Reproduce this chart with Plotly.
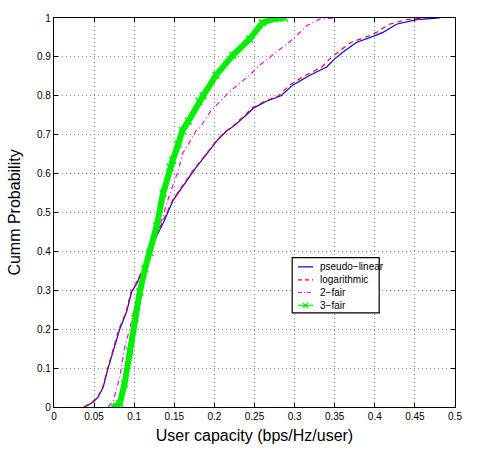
import plotly.graph_objects as go

# pseudo-linear (blue)
pl_x = [0.0384, 0.049, 0.055, 0.0613, 0.0675, 0.0738, 0.082, 0.0905, 0.0968, 0.103, 0.1134,
        0.1259, 0.1362, 0.1487, 0.1655, 0.176, 0.1905, 0.203, 0.2155, 0.224, 0.2405, 0.249,
        0.265, 0.283, 0.298, 0.319, 0.340, 0.350, 0.360, 0.377, 0.402, 0.410, 0.427, 0.452, 0.481]
pl_y = [0.0, 0.013, 0.026, 0.051, 0.10, 0.144, 0.20, 0.245, 0.296, 0.317, 0.364,
        0.431, 0.473, 0.532, 0.583, 0.613, 0.651, 0.684, 0.71, 0.722, 0.752, 0.769,
        0.786, 0.80, 0.828, 0.853, 0.874, 0.895, 0.912, 0.937, 0.956, 0.963, 0.984, 0.996, 1.0]

# logarithmic (red)
lg_x = [0.037, 0.048, 0.055, 0.061, 0.067, 0.073, 0.081, 0.090, 0.096, 0.102, 0.113,
        0.125, 0.135, 0.148, 0.165, 0.175, 0.190, 0.202, 0.215, 0.223, 0.239, 0.247,
        0.263, 0.280, 0.294, 0.314, 0.334, 0.344, 0.354, 0.370, 0.395, 0.402, 0.418, 0.440, 0.465]
lg_y = [0.0, 0.013, 0.028, 0.052, 0.10, 0.144, 0.20, 0.245, 0.296, 0.317, 0.364,
        0.431, 0.473, 0.532, 0.583, 0.613, 0.651, 0.684, 0.71, 0.722, 0.752, 0.769,
        0.786, 0.80, 0.828, 0.853, 0.874, 0.895, 0.912, 0.937, 0.956, 0.963, 0.984, 0.996, 1.0]

# 2-fair (magenta)
f2_x = [0.0675, 0.0738, 0.082, 0.088, 0.0946, 0.101, 0.107, 0.1134, 0.132, 0.1417, 0.1446,
        0.155, 0.160, 0.1655, 0.177, 0.182, 0.195, 0.219, 0.244, 0.256, 0.277, 0.298,
        0.315, 0.331, 0.350]
f2_y = [0.0, 0.015, 0.077, 0.152, 0.203, 0.262, 0.313, 0.355, 0.465, 0.530, 0.549,
        0.608, 0.651, 0.668, 0.71, 0.718, 0.76, 0.811, 0.853, 0.878, 0.912, 0.946,
        0.98, 0.997, 1.0]

# 3-fair (green)
f3_x = [0.0738, 0.082, 0.088, 0.0946, 0.101, 0.107, 0.1134, 0.1196, 0.128, 0.136, 0.1446,
        0.148, 0.155, 0.160, 0.1675, 0.181, 0.186, 0.202, 0.223, 0.244, 0.260, 0.275, 0.2875]
f3_y = [0.0, 0.009, 0.06, 0.144, 0.228, 0.296, 0.355, 0.397, 0.465, 0.549, 0.617,
        0.634, 0.676, 0.71, 0.735, 0.786, 0.80, 0.853, 0.904, 0.946, 0.988, 0.998, 1.0]

series_names = ["pseudo\u2212linear", "logarithmic", "2\u2212fair", "3\u2212fair"]
series_colors = ["#0000ff", "#ff0000", "#ff00ff", "#00ee00"]
series_dash = ["solid", "4px,3px", "4px,2px,1px,2px", "solid"]

x_ticks = [0, 0.05, 0.1, 0.15, 0.2, 0.25, 0.3, 0.35, 0.4, 0.45, 0.5]
x_labels = ["0", "0.05", "0.1", "0.15", "0.2", "0.25", "0.3", "0.35", "0.4", "0.45", "0.5"]
y_ticks = [0, 0.1, 0.2, 0.3, 0.4, 0.5, 0.6, 0.7, 0.8, 0.9, 1]
y_labels = ["0", "0.1", "0.2", "0.3", "0.4", "0.5", "0.6", "0.7", "0.8", "0.9", "1"]

fig = go.Figure()
fig.add_trace(go.Scatter(x=pl_x, y=pl_y, mode="lines", name=series_names[0], showlegend=False,
                         line=dict(color=series_colors[0], width=1.2)))
fig.add_trace(go.Scatter(x=lg_x, y=lg_y, mode="lines", name=series_names[1], showlegend=False,
                         line=dict(color=series_colors[1], width=1.2, dash="5px,4px")))
fig.add_trace(go.Scatter(x=f2_x, y=f2_y, mode="lines", name=series_names[2], showlegend=False,
                         line=dict(color=series_colors[2], width=1.2, dash="5px,3px,1px,3px")))
fig.add_trace(go.Scatter(x=f3_x, y=f3_y, mode="lines+markers", name=series_names[3], showlegend=False,
                         line=dict(color=series_colors[3], width=6),
                         marker=dict(symbol="x-thin", size=7, color=series_colors[3],
                                     line=dict(color=series_colors[3], width=1.5))))

# manual compact legend (paper coordinates of the plot area: 401 x 395 px)
W, H = 401.0, 395.0
lx0, lx1 = 0.594, 0.811
ly_top, ly_bot = 0.384, 0.242
item_y = [0.3603, 0.3266, 0.2944, 0.2615]
seg_x0, seg_x1 = 0.6085, 0.6459
text_x = 0.6584

shapes = [dict(type="rect", xref="paper", yref="paper", x0=lx0, x1=lx1, y0=ly_bot, y1=ly_top,
               line=dict(color="black", width=1.2), fillcolor="white", layer="above")]
annotations = []
for name, col, dash, yy in zip(series_names, series_colors, series_dash, item_y):
    shapes.append(dict(type="line", xref="paper", yref="paper", x0=seg_x0, x1=seg_x1, y0=yy, y1=yy,
                       line=dict(color=col, width=1.2, dash=dash), layer="above"))
    annotations.append(dict(xref="paper", yref="paper", x=text_x, y=yy, text=name, showarrow=False,
                            xanchor="left", yanchor="middle",
                            font=dict(family="Liberation Sans, Arial", size=10, color="black")))
mx = (seg_x0 + seg_x1) / 2
dx, dy = 2.5 / W, 2.5 / H
yy = item_y[3]
shapes.append(dict(type="line", xref="paper", yref="paper", x0=mx - dx, x1=mx + dx, y0=yy - dy, y1=yy + dy,
                   line=dict(color=series_colors[3], width=1.2), layer="above"))
shapes.append(dict(type="line", xref="paper", yref="paper", x0=mx - dx, x1=mx + dx, y0=yy + dy, y1=yy - dy,
                   line=dict(color=series_colors[3], width=1.2), layer="above"))

axis_common = dict(
    showline=True, linecolor="black", linewidth=1.3, mirror="ticks",
    ticks="inside", ticklen=4, tickcolor="black",
    showgrid=True, gridcolor="#8c8c8c", griddash="1px,3px", gridwidth=1,
    zeroline=False, tickfont=dict(family="Liberation Sans, Arial", size=10, color="black"),
)

fig.update_layout(
    width=478, height=456,
    margin=dict(l=54, r=23, t=12, b=49),
    paper_bgcolor="white", plot_bgcolor="white",
    font=dict(family="Liberation Sans, Arial", color="black"),
    xaxis=dict(range=[0, 0.5], tickvals=x_ticks, ticktext=x_labels,
               title=dict(text="User capacity (bps/Hz/user)", font=dict(size=16), standoff=8),
               **axis_common),
    yaxis=dict(range=[0, 1], tickvals=y_ticks, ticktext=y_labels,
               title=dict(text="Cumm Probability", font=dict(size=16), standoff=12),
               **axis_common),
    shapes=shapes,
    annotations=annotations,
    showlegend=False,
)

fig.write_html("out.html")
